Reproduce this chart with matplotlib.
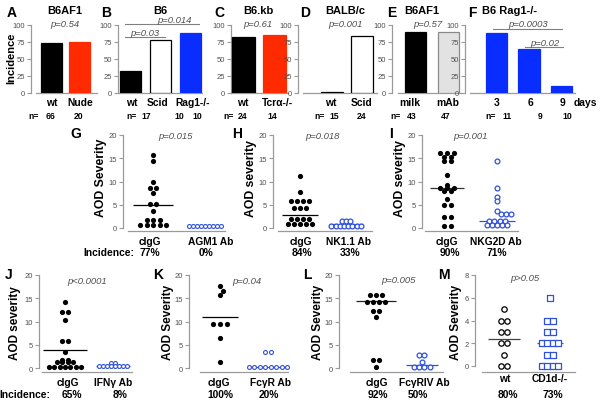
import matplotlib
matplotlib.use('Agg')
import matplotlib.pyplot as plt

plt.rcParams['font.family'] = ['Liberation Sans', 'DejaVu Sans']

# ---------------- data ----------------
# top row: incidence (%)
A_cats = ['wt', 'Nude'];            A_vals = [73, 75];      A_n = ['66', '20']
B_cats = ['wt', 'Scid', 'Rag1-/-']; B_vals = [33, 78, 88];  B_n = ['17', '10', '10']
C_cats = ['wt', 'Tcrα-/-'];         C_vals = [82, 85];      C_n = ['24', '14']
D_cats = ['wt', 'Scid'];            D_vals = [1, 84];       D_n = ['15', '24']
E_cats = ['milk', 'mAb'];           E_vals = [89, 89];      E_n = ['43', '47']
F_cats = ['3', '6', '9'];           F_vals = [88, 65, 10];  F_n = ['11', '9', '10']
top_ticks = [0, 25, 50, 75, 100]

# scatter panels: rows of (value, count)
G_ctrl = [(15.8, 1), (14.4, 1), (10.0, 1), (8.6, 2), (7.5, 1), (5.1, 2), (3.6, 1), (1.8, 3), (0.7, 5)]
G_trt = [(0.5, 9)]
G_med = [5.0, 0.5]
G_cats = ['cIgG', 'AGM1 Ab']; G_inc = ['77%', '0%']

H_ctrl = [(11.2, 1), (7.7, 1), (5.7, 4), (4.2, 3), (1.9, 4), (0.9, 5)]
H_trt = [(1.5, 3), (0.5, 8)]
H_med = [2.8, 0.9]
H_cats = ['cIgG', 'NK1.1 Ab']; H_inc = ['84%', '33%']

I_ctrl = [(16.1, 3), (15.2, 2), (14.5, 2), (11.4, 1), (9.2, 1), (8.7, 3), (7.9, 2), (6.3, 1), (5.0, 2), (2.3, 2), (0.5, 2)]
I_trt = [(14.5, 1), (8.7, 1), (6.7, 1), (5.7, 1), (3.6, 1), (3.0, 3), (1.6, 4), (0.6, 5)]
I_med = [8.5, 1.6]
I_cats = ['cIgG', 'NKG2D Ab']; I_inc = ['90%', '71%']

J_ctrl = [(14.3, 1), (12.1, 2), (10.3, 1), (5.9, 2), (3.5, 1), (1.8, 2), (1.2, 4), (0.3, 7)]
J_trt = [(1.0, 2), (0.35, 8)]
J_med = [3.9, 0.35]
J_cats = ['cIgG', 'IFNγ Ab']; J_inc = ['65%', '8%']

K_ctrl = [(17.6, 1), (16.6, 1), (15.7, 1), (9.5, 3), (6.4, 1), (1.3, 1)]
K_trt = [(3.4, 2), (0.3, 8)]
K_med = [10.9, 0.3]
K_cats = ['cIgG', 'FcγR Ab']; K_inc = ['100%', '20%']

L_ctrl = [(15.6, 3), (14.3, 4), (12.3, 2), (10.9, 1), (1.8, 2), (0.3, 1)]
L_trt = [(2.7, 2), (1.2, 1), (0.2, 4)]
L_med = [14.5, 0.6]
L_cats = ['cIgG', 'FcγRIV Ab']; L_inc = ['92%', '50%']

M_wt = [(5, 1), (4, 2), (3, 2), (2, 2), (1, 1), (0, 2)]
M_ko = [(6, 1), (4, 2), (3, 2), (2, 4), (1, 2), (0, 4)]
M_med = [2.4, 2.0]
M_cats = ['wt', 'CD1d-/-']; M_inc = ['80%', '73%']

sev_ticks = [0, 5, 10, 15, 20]
M_ticks = [0, 2, 4, 6, 8]

# ---------------- styling ----------------
W, H = 600, 402
fig = plt.figure(figsize=(W / 100, H / 100), dpi=100)
AXC = '#9a9a9a'
TXC = '#505050'
BLUE = '#0a2dff'
RED = '#ff2a00'
OBLUE = '#2f50e0'


def ftext(x, y, s, **kw):
    kw.setdefault('ha', 'center')
    kw.setdefault('va', 'baseline')
    fig.text(x / W, 1 - y / H, s, **kw)


def style_axes(ax, yticks, ybounds, xbounds):
    for s in ['top', 'right']:
        ax.spines[s].set_visible(False)
    for s in ['left', 'bottom']:
        ax.spines[s].set_color(AXC)
        ax.spines[s].set_linewidth(0.9)
    ax.spines['left'].set_bounds(*ybounds)
    ax.spines['bottom'].set_bounds(*xbounds)
    ax.set_yticks(yticks)
    ax.set_xticks([])
    ax.tick_params(axis='y', length=3, width=0.8, color=AXC, labelsize=5.5,
                   labelcolor=TXC, pad=1.5)
    ax.patch.set_visible(False)


def pval(x, y, s):
    ftext(x, y, s, fontsize=6.8, style='italic', color=TXC)


def bar_panel(aL, aR, c0, sp, vals, colors, edges, width, sb):
    ax = fig.add_axes([aL / W, 1 - 94 / H, (aR - aL) / W, (94 - 26) / H])
    ax.set_xlim((aL - c0) / sp, (aR - c0) / sp)
    ax.set_ylim(0, 100)
    ax.bar(range(len(vals)), vals, width=width, color=colors, edgecolor=edges,
           linewidth=0.9, zorder=3)
    style_axes(ax, top_ticks, (0, 100), ((sb[0] - c0) / sp, (sb[1] - c0) / sp))
    return ax


def cat_row(xs, labels, y, size=7.4):
    for x, s in zip(xs, labels):
        ftext(x, y, s, fontsize=size, fontweight='bold')


def n_row(eqx, xs, labels):
    ftext(eqx, 119, 'n=', fontsize=6.2, fontweight='bold')
    for x, s in zip(xs, labels):
        ftext(x, 119, s, fontsize=6.2, fontweight='bold')


# ---- top row ----
axA = bar_panel(31, 100, 51, 28, A_vals, ['black', RED], ['black', RED], 0.75, (36, 97))
axB = bar_panel(118, 203, 130.5, 30, B_vals, ['black', 'white', BLUE], ['black', 'black', BLUE], 0.7, (118, 202))
axC = bar_panel(231, 289, 243.5, 31, C_vals, ['black', RED], ['black', RED], 0.72, (231, 288))
axD = bar_panel(298, 378, 332, 30, D_vals, ['white', 'white'], ['black', 'black'], 0.72, (303, 377))
axE = bar_panel(392, 462, 415.5, 33, E_vals, ['black', '#e2e2e2'], ['black', '#8a8a8a'], 0.64, (398, 461))
axF = bar_panel(465, 576, 496.5, 32.5, F_vals, [BLUE] * 3, [BLUE] * 3, 0.65, (470, 575))

cat_row([52, 80], A_cats, 106)
cat_row([132, 158, 193], B_cats, 106)
cat_row([243, 277], C_cats, 106)
cat_row([331, 362], D_cats, 106)
cat_row([410, 448], E_cats, 106)
cat_row([497, 530, 562], F_cats, 106)
ftext(585, 106, 'days', fontsize=7.4, fontweight='bold')

n_row(34, [50, 79], A_n)
n_row(132, [146, 179, 197], B_n)
n_row(229, [243, 272], C_n)
n_row(320, [334, 362], D_n)
n_row(396, [412, 446], E_n)
n_row(491, [507, 540, 567], F_n)

for x, l in [(12, 'A'), (106, 'B'), (219, 'C'), (305, 'D'), (392, 'E'), (472, 'F')]:
    ftext(x, 17, l, fontsize=10, fontweight='bold')
for x, t in [(65, 'B6AF1'), (160, 'B6'), (258, 'B6.kb'), (345, 'BALB/c'), (422, 'B6AF1'), (510, 'B6 Rag1-/-')]:
    ftext(x, 14.5, t, fontsize=8, fontweight='bold')
fig.text(11 / W, 1 - 58 / H, 'Incidence', rotation=90, ha='center', va='center',
         fontsize=8, fontweight='bold')

pval(65, 27, 'p=0.54')
pval(145, 36, 'p=0.03')
pval(174, 23.2, 'p=0.014')
pval(258, 27, 'p=0.61')
pval(345, 27, 'p=0.001')
pval(428, 27, 'p=0.57')
pval(528, 27, 'p=0.0003')
pval(545, 46, 'p=0.02')


def hline_px(x0, x1, y):
    fig.add_artist(plt.Line2D([x0 / W, x1 / W], [1 - y / H, 1 - y / H],
                              color='#808080', lw=0.8))


hline_px(125, 165, 37.5)
hline_px(125, 199, 25)
hline_px(493, 562, 30)
hline_px(525, 563, 47.5)


# ---- scatter panels ----
def scatter_panel(aL, aR, c0, sp, y0, ytop, ymax, ymin, yticks, sb):
    ppu = (y0 - ytop) / ymax
    yb = y0 - ymin * ppu
    ax = fig.add_axes([aL / W, 1 - yb / H, (aR - aL) / W, (yb - ytop) / H])
    ax.set_xlim((aL - c0) / sp, (aR - c0) / sp)
    ax.set_ylim(ymin, ymax)
    style_axes(ax, yticks, (0, ymax), ((sb[0] - c0) / sp, (sb[1] - c0) / sp))
    ax._sp = sp
    ax._ppu = ppu
    return ax


def swarm(ax, pos, rows, step, diam, **kw):
    sp, ppu = ax._sp, ax._ppu
    placed = []
    xs, ys = [], []
    for v, n in rows:
        base = [(i - (n - 1) / 2) * step for i in range(n)]
        yp = v * ppu
        chosen = 0
        for sh in [0, 3, -3, 5, -5, 7, -7, 9, -9]:
            ok = True
            for b in base:
                for (px, py) in placed:
                    if ((b + sh - px) ** 2 + (yp - py) ** 2) ** 0.5 < diam * 0.9:
                        ok = False
                        break
                if not ok:
                    break
            if ok:
                chosen = sh
                break
        for b in base:
            placed.append((b + chosen, yp))
            xs.append(pos + (b + chosen) / sp)
            ys.append(v)
    ax.scatter(xs, ys, clip_on=False, zorder=3, **kw)


def median(ax, pos, m, half, color):
    sp = ax._sp
    ax.plot([pos - half / sp, pos + half / sp], [m, m], color=color, lw=0.9,
            solid_capstyle='butt', zorder=2, clip_on=False)


FILLED = dict(s=14, c='black', linewidths=0)
OPEN_S = dict(s=8, facecolors='white', edgecolors=OBLUE, linewidths=0.8)
OPEN_M = dict(s=12, facecolors='white', edgecolors=OBLUE, linewidths=0.9)


def ylab(x, y, s, size):
    fig.text(x / W, 1 - y / H, s, rotation=90, ha='center', va='center',
             fontsize=size, fontweight='bold')


# G
axG = scatter_panel(123, 228, 153, 52, 229, 136, 20, -0.65, sev_ticks, (128, 225))
swarm(axG, 0, G_ctrl, 6.5, 5.2, **FILLED)
swarm(axG, 1, G_trt, 3.9, 4, **OPEN_S)
median(axG, 0, G_med[0], 20, 'black')
median(axG, 1, G_med[1], 17, OBLUE)
cat_row([150, 211], G_cats, 245.5)
ftext(134, 256.5, 'Incidence:', fontsize=7.4, fontweight='bold', ha='right')
cat_row([150, 206], G_inc, 256.5)
ylab(101, 178, 'AOD Severity', 8.8)
ftext(76, 138, 'G', fontsize=10, fontweight='bold')
pval(175, 139, 'p=0.015')

# H
axH = scatter_panel(273, 372, 300, 46, 229, 136, 20, -0.65, sev_ticks, (278, 372))
swarm(axH, 0, H_ctrl, 6.2, 5.2, **FILLED)
swarm(axH, 1, H_trt, 4.2, 4.5, **OPEN_M)
median(axH, 0, H_med[0], 18, 'black')
median(axH, 1, H_med[1], 17, OBLUE)
cat_row([301, 348], H_cats, 245.5)
cat_row([302, 350], H_inc, 256.5)
ylab(251, 179, 'AOD severity', 8.8)
ftext(237, 138, 'H', fontsize=10, fontweight='bold')
pval(322, 139, 'p=0.018')

# I
axI = scatter_panel(422, 520, 447, 50, 229, 136, 20, -0.65, sev_ticks, (425, 518))
swarm(axI, 0, I_ctrl, 7, 5.2, **FILLED)
swarm(axI, 1, I_trt, 5.2, 4.8, **OPEN_M)
median(axI, 0, I_med[0], 17, '#333333')
median(axI, 1, I_med[1], 18, OBLUE)
cat_row([447, 496], I_cats, 245.5)
cat_row([450, 497], I_inc, 256.5)
ylab(400, 179, 'AOD severity', 8.8)
ftext(391, 138, 'I', fontsize=10, fontweight='bold')
pval(470, 139, 'p=0.001')

# J
axJ = scatter_panel(39, 133, 65, 48, 369, 276, 20, -0.86, sev_ticks, (42, 132))
swarm(axJ, 0, J_ctrl, 5.3, 5.2, **FILLED)
swarm(axJ, 1, J_trt, 3.9, 4, **OPEN_S)
median(axJ, 0, J_med[0], 22, 'black')
median(axJ, 1, J_med[1], 17, OBLUE)
cat_row([68, 113], J_cats, 386)
ftext(50, 398, 'Incidence:', fontsize=7.4, fontweight='bold', ha='right')
cat_row([72, 120], J_inc, 398)
ylab(15, 323, 'AOD severity', 8.5)
ftext(9, 279, 'J', fontsize=10, fontweight='bold')
pval(87, 284, 'p<0.0001')

# K
axK = scatter_panel(189, 290, 220, 48, 369, 276, 20, -0.86, sev_ticks, (200, 288))
swarm(axK, 0, K_ctrl, 7, 5.2, **FILLED)
swarm(axK, 1, K_trt, 5.5, 4, **OPEN_S)
median(axK, 0, K_med[0], 18, 'black')
median(axK, 1, K_med[1], 20, OBLUE)
cat_row([219, 270], K_cats, 386)
cat_row([220, 269], K_inc, 398)
ylab(168, 322, 'AOD Severity', 8.5)
ftext(158, 279, 'K', fontsize=10, fontweight='bold')
pval(247, 284, 'p=0.04')

# L
axL = scatter_panel(339, 444, 376, 46, 369, 276, 20, -0.86, sev_ticks, (350, 443))
swarm(axL, 0, L_ctrl, 6, 5.2, **FILLED)
swarm(axL, 1, L_trt, 5, 4.5, **OPEN_M)
median(axL, 0, L_med[0], 20, '#222222')
median(axL, 1, L_med[1], 16, OBLUE)
cat_row([377, 424], L_cats, 386)
cat_row([378, 418], L_inc, 398)
ylab(318, 322, 'AOD Severity', 8.5)
ftext(307, 279, 'L', fontsize=10, fontweight='bold')
pval(398, 283, 'p=0.005')

# M
axM = scatter_panel(475, 576, 504, 46, 367, 276, 8, -0.53, M_ticks, (482, 575))
swarm(axM, 0, M_wt, 6, 5, s=15, facecolors='white', edgecolors='black', linewidths=0.9)
swarm(axM, 1, M_ko, 5.6, 5, s=15, marker='s', facecolors='white', edgecolors=OBLUE, linewidths=0.9)
median(axM, 0, M_med[0], 16, '#444444')
median(axM, 1, M_med[1], 13, OBLUE)
cat_row([505, 550], M_cats, 382)
cat_row([508, 553], M_inc, 398)
ylab(456, 322, 'AOD Severity', 8.5)
ftext(444, 279, 'M', fontsize=10, fontweight='bold')
pval(525, 281, 'p>0.05')

fig.savefig('out.png', dpi=100)
